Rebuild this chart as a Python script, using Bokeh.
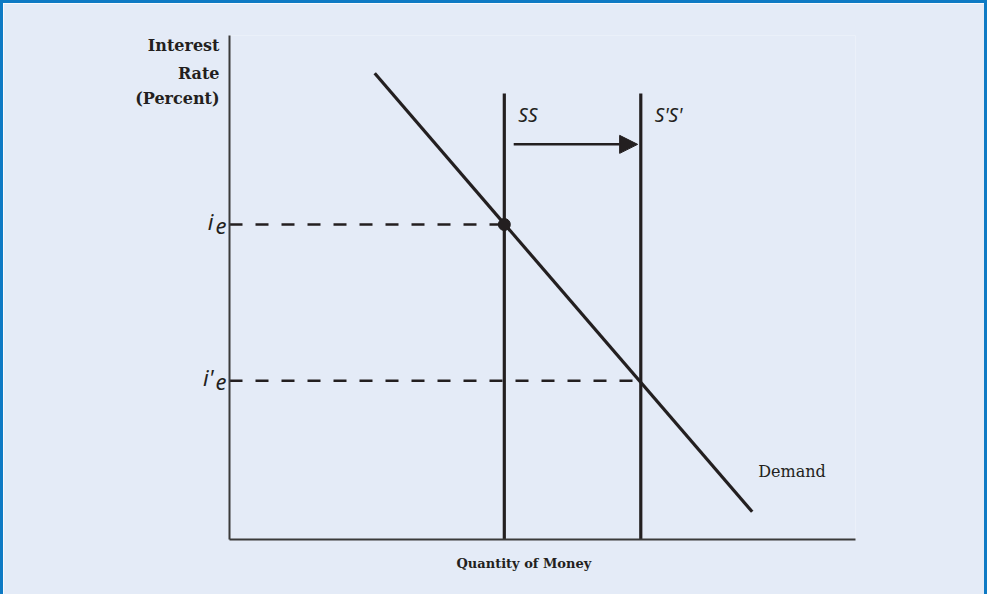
from bokeh.plotting import figure
from bokeh.models import (Range1d, FixedTicker, Label, Arrow, NormalHead, Title, LinearAxis)
from bokeh.embed import file_html
from bokeh.resources import INLINE

# ---- data ----
demand_q = [2.32, 8.35]
demand_r = [9.25, 0.55]
supply_q = [4.39, 6.57]          # SS, S'S'
supply_top = [8.85, 8.85]
supply_names = ["SS", "S'S'"]
eq_rates = [6.25, 3.15]           # i_e, i'_e
rate_labels = ["i", "i'"]
rate_subscripts = ["e", "e"]
shift_r = 7.84
shift_from = 4.54
shift_to = 6.52
y_title_lines = ["Interest", "Rate", "(Percent)"]
x_title = "Quantity of Money"

# ---- layout constants ----
INK = "#231f20"
BG = "#e4ebf7"
BLUE = "#0e7ac4"
PX = 50.4                 # frame pixels per rate unit
TITLE_ROWS = [9.80, 9.25, 8.75]   # where the stacked y title rows sit

p = figure(width=987, height=594, output_backend="svg", toolbar_location=None,
           x_range=Range1d(0, 10), y_range=Range1d(0, 10),
           min_border_left=226, min_border_right=135, min_border_top=32, min_border_bottom=58)
p.styles = {"border-top": f"3px solid {BLUE}", "border-left": f"3px solid {BLUE}",
            "border-right": f"3px solid {BLUE}"}
p.background_fill_color = BG
p.border_fill_color = BG
p.outline_line_color = None
p.grid.visible = False
p.extra_y_ranges = {
    "sub": Range1d(0 + 1.5 / PX, 10 + 1.5 / PX),   # subscripts sit a little lower
    "sup": Range1d(0 - 4 / PX, 10 - 4 / PX),       # base letters a little higher
}


def bare(ax):
    ax.major_tick_line_color = None
    ax.minor_tick_line_color = None
    ax.major_tick_out = 0
    ax.major_tick_in = 0
    ax.minor_tick_out = 0
    ax.minor_tick_in = 0


for ax in (p.xaxis, p.yaxis):
    ax.ticker = FixedTicker(ticks=[])
    ax.major_label_text_font_size = "0px"
    ax.major_label_standoff = 0
    bare(ax)
    ax.axis_line_color = "#3a3a3a"
    ax.axis_line_width = 2

SERIF = "DejaVu Serif"
SANS = "Noto Sans"

# subscript "e" axis (closest to the frame)
ax_e = LinearAxis(y_range_name="sub", ticker=FixedTicker(ticks=eq_rates),
                  major_label_overrides={r: s for r, s in zip(eq_rates, rate_subscripts)},
                  major_label_text_font=SANS, major_label_text_font_style="italic",
                  major_label_text_font_size="22px", major_label_text_color=INK,
                  major_label_standoff=3, axis_line_color=None)
bare(ax_e)
p.add_layout(ax_e, "left")

# base letter axis "i", "i'"
ax_i = LinearAxis(y_range_name="sup", ticker=FixedTicker(ticks=eq_rates),
                  major_label_overrides={r: s for r, s in zip(eq_rates, rate_labels)},
                  major_label_text_font=SANS, major_label_text_font_style="italic",
                  major_label_text_font_size="22px", major_label_text_color=INK,
                  major_label_standoff=-1, axis_line_color=None)
bare(ax_i)
p.add_layout(ax_i, "left")

# stacked y title
ax_t = LinearAxis(ticker=FixedTicker(ticks=TITLE_ROWS),
                  major_label_overrides={r: s for r, s in zip(TITLE_ROWS, y_title_lines)},
                  major_label_text_font=SERIF, major_label_text_font_style="bold",
                  major_label_text_font_size="16px", major_label_text_color=INK,
                  major_label_standoff=-20, axis_line_color=None)
bare(ax_t)
p.add_layout(ax_t, "left")

# x title
p.add_layout(Title(text=x_title, align="left", offset=227, text_font=SERIF,
                   text_font_style="bold", text_font_size="13px", text_color=INK,
                   standoff=28), "below")

# marks
for q, r in zip(supply_q, eq_rates):
    p.line([0, q], [r, r], line_color=INK, line_width=2.5, line_dash="13 13")
for q, top in zip(supply_q, supply_top):
    p.line([q, q], [0, top], line_color=INK, line_width=3.2)
p.line(demand_q, demand_r, line_color=INK, line_width=3.2)
p.scatter([supply_q[0]], [eq_rates[0]], size=12, color=INK)
p.add_layout(Arrow(x_start=shift_from, y_start=shift_r, x_end=shift_to, y_end=shift_r,
                   line_color=INK, line_width=2.5,
                   end=NormalHead(size=18, fill_color=INK, line_color=INK)))

for name, q in zip(supply_names, supply_q):
    p.add_layout(Label(x=q, y=supply_top[0], text=name, x_offset=14, y_offset=-22,
                       text_align="left", text_baseline="alphabetic", text_font=SANS,
                       text_font_style="italic", text_font_size="19px", text_color=INK))

p.add_layout(Label(x=demand_q[1], y=demand_r[1], text="Demand", x_offset=6, y_offset=40,
                   text_align="left", text_baseline="alphabetic", text_font=SERIF,
                   text_font_size="16px", text_color=INK))

open("out.html", "w").write(file_html(p, INLINE))
